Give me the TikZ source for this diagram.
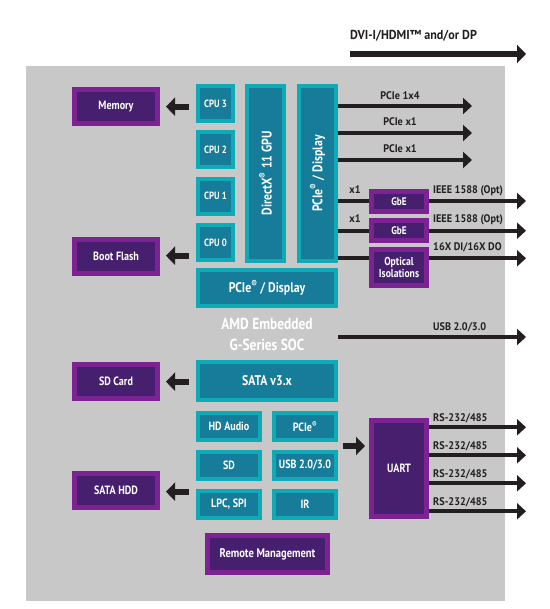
\documentclass[tikz,border=0pt]{standalone}
\usepackage{fontspec}
\setmainfont{PT Sans}[FakeStretch=0.84]
\newfontfamily\labfont{PT Sans}[FakeStretch=0.93]
\usetikzlibrary{arrows.meta}
\definecolor{bgG}{HTML}{C8C8C8}
\definecolor{tealB}{HTML}{0EAAB6}
\definecolor{tealI}{HTML}{177B9A}
\definecolor{purB}{HTML}{7C2293}
\definecolor{purI}{HTML}{46206E}
\definecolor{arr}{HTML}{231F20}
\newcommand\fsz[1]{\fontsize{#1}{#1}\selectfont\bfseries}
\newcommand\lsz[1]{\labfont\fontsize{#1}{#1}\selectfont\bfseries}
\begin{document}
\begin{tikzpicture}[x=1pt,y=-1pt,
  tbox/.style={draw=tealB, fill=tealI, line width=4pt, text=white, inner sep=0pt, align=center},
  pbox/.style={draw=purB, fill=purI, line width=5pt, text=white, inner sep=0pt, align=center},
  cpubox/.style={tbox, minimum width=35pt, minimum height=35pt, font=\fsz{10.5}},
  tallbox/.style={tbox, minimum width=37pt, minimum height=175pt, font=\fsz{14}},
  widebox/.style={tbox, minimum width=138pt, minimum height=36pt, font=\fsz{14}},
  smallbox/.style={tbox, minimum width=62pt, minimum height=27pt, font=\fsz{12}},
  extbox/.style={pbox, minimum width=83pt, minimum height=34pt, font=\fsz{12}},
  gbebox/.style={pbox, minimum width=55pt, minimum height=20pt, font=\fsz{11}},
  thinarrow/.style={draw=arr, line width=4pt, -{Triangle[length=9pt,width=16pt]}},
  fatarrow/.style={draw=arr, line width=6pt, -{Triangle[length=9pt,width=18pt]}},
  lab/.style={text=arr, inner sep=0pt, font=\lsz{11}},
  soc/.style={text=white, inner sep=0pt, font=\fsz{16}}]
\useasboundingbox (0,0) rectangle (549,609);
\fill[bgG] (26,66) rectangle (505,601);

% top DVI arrow
\coordinate (dviA) at (350,54);
\coordinate (dviB) at (526,54);
\draw[fatarrow] (dviA) -- (dviB);
\node[lab, font=\lsz{13}, anchor=base west] (dvi) at (350,39.5) {DVI-I/HDMI™ and/or DP};

% external boxes (left)
\node[extbox] (mem) at (116,106.5) {Memory};
\node[extbox] (boot) at (116,256.5) {Boot Flash};
\node[extbox] (sdcard) at (116,381.5) {SD Card};
\node[extbox] (hdd) at (116,490.5) {SATA HDD};

% CPUs
\node[cpubox] (cpu3) at (215.5,103.5) {CPU 3};
\node[cpubox] (cpu2) at (215.5,149.8) {CPU 2};
\node[cpubox] (cpu1) at (215.5,196.2) {CPU 1};
\node[cpubox] (cpu0) at (215.5,242.5) {CPU 0};

% GPU and PCIe vertical
\node[tallbox] (gpu) at (265.5,173.5) {\rotatebox{90}{DirectX\textsuperscript{®} 11 GPU}};
\node[tallbox] (pciev) at (317.5,173.5) {\rotatebox{90}{PCIe\textsuperscript{®} / Display}};

% wide boxes
\node[widebox] (pcieh) at (267,288) {PCIe\textsuperscript{®} / Display};
\node[widebox, minimum height=38pt] (sata) at (267,381) {SATA v3.x};

\node[soc, anchor=base] (soc1) at (267,329.3) {AMD Embedded};
\node[soc, anchor=base] (soc2) at (267,350.7) {G-Series SOC};

% small boxes
\node[smallbox] (hda) at (229,426.5) {HD Audio};
\node[smallbox] (pcies) at (305,426.5) {PCIe\textsuperscript{®}};
\node[smallbox] (sd) at (229,465.5) {SD};
\node[smallbox] (usb) at (305,465.5) {USB 2.0/3.0};
\node[smallbox] (lpc) at (229,504.5) {LPC, SPI};
\node[smallbox] (ir) at (305,504.5) {IR};

\node[pbox, minimum width=120pt, minimum height=37pt, font=\fsz{12.5}] (remote) at (267.5,554) {Remote Management};

% right purple boxes
\node[gbebox] (gbe1) at (399,201.5) {GbE};
\node[gbebox] (gbe2) at (399,230.5) {GbE};
\node[pbox, minimum width=55pt, minimum height=36pt, font=\fsz{11.5}] (opt) at (399,267.5) {\fontsize{11.5}{14}\selectfont Optical\\Isolations};
\node[pbox, minimum width=55pt, minimum height=96pt, font=\fsz{12}] (uart) at (399,468.5) {UART};

% left fat arrows
\draw[fatarrow, shorten <=7pt, shorten >=6pt] (cpu3.west |- 0,106.7) -- (mem.east |- 0,106.7);
\draw[fatarrow, shorten <=7pt, shorten >=6pt] (cpu0.west |- 0,255.7) -- (boot.east |- 0,255.7);
\draw[fatarrow, shorten <=7pt, shorten >=6pt] (sata.west |- 0,381.7) -- (sdcard.east |- 0,381.7);
\draw[fatarrow, shorten <=7pt, shorten >=6pt] (sd.west |- 0,491.7) -- (hdd.east |- 0,491.7);

% PCIe outputs
\coordinate (pe1) at (472,106);
\coordinate (pe2) at (472,133);
\coordinate (pe3) at (472,160);
\draw[thinarrow] (pciev.east |- pe1) -- (pe1);
\draw[thinarrow] (pciev.east |- pe2) -- (pe2);
\draw[thinarrow] (pciev.east |- pe3) -- (pe3);
\node[lab, anchor=base] (l1) at (400,99.3) {PCIe 1x4};
\node[lab, anchor=base] (l2) at (400,126) {PCIe x1};
\node[lab, anchor=base] (l3) at (400,152.7) {PCIe x1};

% GbE lines
\coordinate (g1) at (526,201);
\coordinate (g2) at (526,230.7);
\coordinate (g3) at (526,258.3);
\draw[draw=arr, line width=4pt] (pciev.east |- g1) -- (gbe1.west |- g1);
\draw[draw=arr, line width=4pt] (pciev.east |- g2) -- (gbe2.west |- g2);
\draw[draw=arr, line width=4pt] (pciev.east |- g3) -- (opt.west |- g3);
\draw[thinarrow] (gbe1.east |- g1) -- (g1);
\draw[thinarrow] (gbe2.east |- g2) -- (g2);
\draw[thinarrow] (opt.east |- g3) -- (g3);
\node[lab, anchor=base] (x1a) at (355,193.3) {x1};
\node[lab, anchor=base] (x1b) at (355,223) {x1};
\node[lab, anchor=base west] (ie1) at (433,193.3) {IEEE 1588 (Opt)};
\node[lab, anchor=base west] (ie2) at (433,222.7) {IEEE 1588 (Opt)};
\node[lab, anchor=base west] (dido) at (433,250.7) {16X DI/16X DO};

% USB line
\coordinate (uA) at (338,337);
\coordinate (uB) at (526,337);
\draw[thinarrow] (uA) -- (uB);
\node[lab, anchor=base west] (usbl) at (433,330) {USB 2.0/3.0};

% UART
\coordinate (uin) at (350,446);
\draw[fatarrow, shorten <=5pt, shorten >=4pt] (pcies.east |- uin) -- (uart.west |- uin);
\coordinate (r1) at (526,427.3);
\coordinate (r2) at (526,455.3);
\coordinate (r3) at (526,483.3);
\coordinate (r4) at (526,511.3);
\draw[thinarrow] (uart.east |- r1) -- (r1);
\draw[thinarrow] (uart.east |- r2) -- (r2);
\draw[thinarrow] (uart.east |- r3) -- (r3);
\draw[thinarrow] (uart.east |- r4) -- (r4);
\node[lab, anchor=base west] (rs1) at (433,421.7) {RS-232/485};
\node[lab, anchor=base west] (rs2) at (433,449) {RS-232/485};
\node[lab, anchor=base west] (rs3) at (433,477) {RS-232/485};
\node[lab, anchor=base west] (rs4) at (433,505) {RS-232/485};
\end{tikzpicture}
\end{document}
